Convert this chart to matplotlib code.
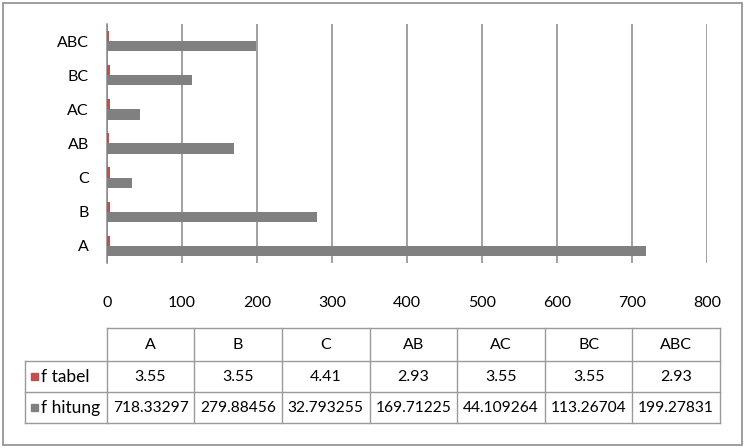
import matplotlib.pyplot as plt
import numpy as np
from matplotlib.patches import Rectangle

# data
categories = ['A', 'B', 'C', 'AB', 'AC', 'BC', 'ABC']
f_tabel = [3.55, 3.55, 4.41, 2.93, 3.55, 3.55, 2.93]
f_hitung = [718.33297, 279.88456, 32.793255, 169.71225, 44.109264, 113.26704, 199.27831]
f_tabel_txt = ['3.55', '3.55', '4.41', '2.93', '3.55', '3.55', '2.93']
f_hitung_txt = ['718.33297', '279.88456', '32.793255', '169.71225', '44.109264', '113.26704', '199.27831']
series_names = ['f tabel', 'f hitung']
series_colors = ['#C0504D', '#808080']
xticks = [0, 100, 200, 300, 400, 500, 600, 700, 800]

plt.rcParams['font.family'] = ['Lato', 'DejaVu Sans']
W, H = 746, 448
fig = plt.figure(figsize=(W / 100, H / 100), dpi=100)

# bar chart
ax = fig.add_axes([107 / W, 1 - 263 / H, 600 / W, 239 / H])
y = np.arange(len(categories))
bh = 0.3
ax.barh(y + bh / 2, f_tabel, height=bh, color=series_colors[0], zorder=3)
ax.barh(y - bh / 2, f_hitung, height=bh, color=series_colors[1], zorder=3)
ax.set_xlim(0, 800)
ax.set_ylim(-0.5, len(categories) - 0.5)
ax.set_xticks(xticks)
ax.set_yticks(y)
ax.set_yticklabels(categories)
ax.xaxis.grid(True, color='#878787', linewidth=1.1, zorder=0)
for s in ['top', 'right', 'bottom']:
    ax.spines[s].set_visible(False)
ax.spines['left'].set_color('#878787')
ax.spines['left'].set_linewidth(1.1)
ax.tick_params(axis='x', length=0, pad=24, labelsize=11.5)
ax.tick_params(axis='y', length=0, pad=13, labelsize=11.5)

# table (pixel coordinates overlay)
tx = fig.add_axes([0, 0, 1, 1], facecolor='none')
tx.set_xlim(0, W)
tx.set_ylim(H, 0)
tx.axis('off')

lc = '#9a9a9a'
rows_y = [328, 361.5, 392.5, 423]
col0 = 25
col_left = 106.7
col_w = (720 - 106.7) / len(categories)
col_x = [col_left + i * col_w for i in range(len(categories) + 1)]

# horizontal lines
tx.plot([col_left, col_x[-1]], [rows_y[0]] * 2, color=lc, lw=1)
for yy in rows_y[1:]:
    tx.plot([col0, col_x[-1]], [yy] * 2, color=lc, lw=1)
# vertical lines
tx.plot([col0, col0], [rows_y[1], rows_y[-1]], color=lc, lw=1)
for xx in col_x:
    tx.plot([xx, xx], [rows_y[0], rows_y[-1]], color=lc, lw=1)

for i, cat in enumerate(categories):
    cx = col_x[i] + col_w / 2
    tx.text(cx, (rows_y[0] + rows_y[1]) / 2, cat, ha='center', va='center', fontsize=11.5)
    tx.text(cx, (rows_y[1] + rows_y[2]) / 2, f_tabel_txt[i], ha='center', va='center', fontsize=11.5)
    tx.text(cx, (rows_y[2] + rows_y[3]) / 2, f_hitung_txt[i], ha='center', va='center', fontsize=11.2)

for r, (name, c) in enumerate(zip(series_names, series_colors)):
    cy = (rows_y[r + 1] + rows_y[r + 2]) / 2
    tx.add_patch(Rectangle((30.5, cy - 3.5), 7, 7, color=c))
    tx.text(41, cy, name, ha='left', va='center', fontsize=12.5)

# outer border
tx.add_patch(Rectangle((3, 3), 739, 442, fill=False, edgecolor='#8c8c8c', lw=1.2))

plt.savefig('out.png', dpi=100)
